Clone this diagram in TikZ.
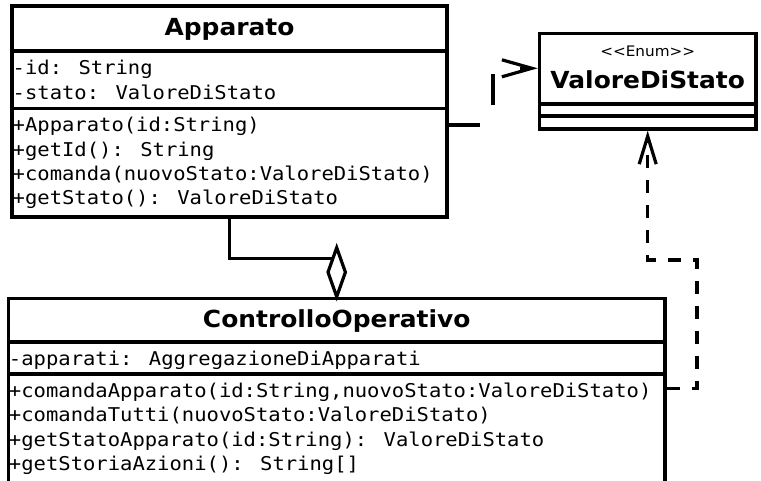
\documentclass[tikz,border=0pt]{standalone}
\usepackage{fontspec}
\setmainfont{DejaVu Sans}
\newfontfamily\titlefnt{DejaVu Sans}[FakeStretch=1.06]
\newfontfamily\stereofnt{DejaVu Sans}[FakeStretch=1.05]
\newfontfamily\memberfnt{DejaVu Sans Mono}[FakeStretch=1.08]
\usetikzlibrary{arrows.meta}

\tikzset{
  umlbox/.style={draw, line width=3.2pt, rectangle, inner sep=0pt, fill=white},
  sepline/.style={line width=3.2pt},
  titletext/.style={anchor=base, inner sep=0pt, font=\titlefnt\bfseries\fontsize{23.5}{26}\selectfont},
  stereotext/.style={anchor=base, inner sep=0pt, font=\stereofnt\fontsize{14.5}{16}\selectfont},
  membertext/.style={anchor=base west, inner sep=0pt, font=\memberfnt\fontsize{19}{22}\selectfont},
  link/.style={line width=3.2pt},
  depA/.style={link, dash pattern=on 31pt off 33pt, -{Straight Barb[length=30pt,width=17pt]}},
  depB/.style={link, dash pattern=on 13pt off 12pt, -{Straight Barb[length=28pt,width=17pt]}},
  aggdiamond/.style={line width=3.2pt, fill=white, line join=miter},
}

\begin{document}
\begin{tikzpicture}[x=1pt, y=-1pt]
  \useasboundingbox (0,0) rectangle (761,481);
  \clip (0,0) rectangle (761,481);
  \fill[white] (0,0) rectangle (761,481);

  % class Apparato
  \node[umlbox, minimum width=435pt, minimum height=211pt] (ap) at (229.5,111.5) {};
  \draw[sepline] (ap.west |- 0,51) -- (ap.east |- 0,51);
  \draw[sepline] (ap.west |- 0,108.5) -- (ap.east |- 0,108.5);
  \node[titletext] (apT) at (229.5,36) {Apparato};
  \node[membertext] (apA1) at (12.5,75) {-id: String};
  \node[membertext] (apA2) at (12.5,99.5) {-stato: ValoreDiStato};
  \node[membertext] (apM1) at (12.5,132) {+Apparato(id:String)};
  \node[membertext] (apM2) at (12.5,156.3) {+getId(): String};
  \node[membertext] (apM3) at (12.5,180.6) {+comanda(nuovoStato:ValoreDiStato)};
  \node[membertext] (apM4) at (12.5,205) {+getStato(): ValoreDiStato};

  % enumeration ValoreDiStato
  \node[umlbox, minimum width=216.7pt, minimum height=95.7pt] (vds) at (647.7,81.2) {};
  \draw[sepline] (vds.west |- 0,104) -- (vds.east |- 0,104);
  \draw[sepline] (vds.west |- 0,116) -- (vds.east |- 0,116);
  \node[stereotext] (vdsS) at (647.7,57) {<<Enum>>};
  \node[titletext] (vdsT) at (647.7,88.3) {ValoreDiStato};

  % class ControlloOperativo
  \node[umlbox, minimum width=656.7pt, minimum height=221.7pt] (co) at (336.7,409.15) {};
  \draw[sepline] (co.west |- 0,342) -- (co.east |- 0,342);
  \draw[sepline] (co.west |- 0,374) -- (co.east |- 0,374);
  \node[titletext] (coT) at (336.7,327) {ControlloOperativo};
  \node[membertext] (coA1) at (8.8,365) {-apparati: AggregazioneDiApparati};
  \node[membertext] (coM1) at (8.8,397.3) {+comandaApparato(id:String,nuovoStato:ValoreDiStato)};
  \node[membertext] (coM2) at (8.8,421.8) {+comandaTutti(nuovoStato:ValoreDiStato)};
  \node[membertext] (coM3) at (8.8,446.3) {+getStatoApparato(id:String): ValoreDiStato};
  \node[membertext] (coM4) at (8.8,470.8) {+getStoriaAzioni(): String[]};

  % dependency Apparato -> ValoreDiStato
  \coordinate (d1a) at (493,125);
  \coordinate (d1b) at (493,68.3);
  \draw[depA] (ap.east |- d1a) -- (d1a) -- (d1b) -- (vds.west |- d1b);

  % dependency ControlloOperativo -> ValoreDiStato
  \coordinate (d2a) at (697,388.3);
  \coordinate (d2b) at (697,260);
  \draw[depB] (co.east |- d2a) -| (d2b) -| (vds.south);

  % aggregation ControlloOperativo <>-- Apparato
  \coordinate (g1) at (229.3,258.3);
  \coordinate (g2) at (336.7,258.3);
  \draw[link] (ap.south -| g1) -- (g1) -- (g2);
  \draw[aggdiamond] (co.north) -- ++(8.7,-24.5) -- ++(-8.7,-24.5) -- ++(-8.7,24.5) -- cycle;
\end{tikzpicture}
\end{document}
